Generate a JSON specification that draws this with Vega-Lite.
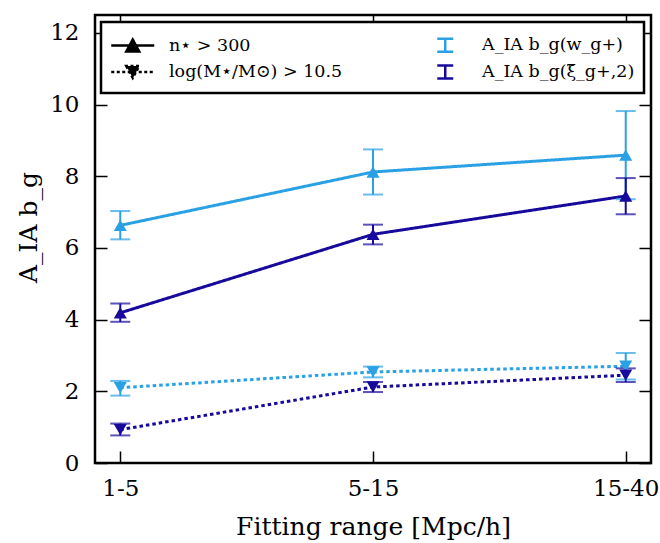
{
  "$schema": "https://vega.github.io/schema/vega-lite/v6.json",
  "width": 556,
  "height": 448,
  "autosize": "none",
  "padding": {"left": 95, "top": 15, "right": 9, "bottom": 80},
  "background": "white",
  "config": {
    "view": {"stroke": "black", "strokeWidth": 2.5},
    "font": "DejaVu Serif",
    "axis": {
      "domain": false, "ticks": false, "grid": true, "gridColor": "black", "gridWidth": 1.5, "gridOpacity": 1,
      "labelFont": "DejaVu Serif", "labelFontSize": 23, "labelColor": "black",
      "titleFont": "DejaVu Serif", "titleFontSize": 25, "titleFontWeight": "normal", "titleColor": "black"
    }
  },
  "data": {"values": [
    {"range": "1-5", "sample": "n⋆ > 300", "method": "A_IA b_g(w_g+)", "value": 6.63, "lo": 6.24, "hi": 7.03},
    {"range": "5-15", "sample": "n⋆ > 300", "method": "A_IA b_g(w_g+)", "value": 8.12, "lo": 7.49, "hi": 8.75},
    {"range": "15-40", "sample": "n⋆ > 300", "method": "A_IA b_g(w_g+)", "value": 8.59, "lo": 7.36, "hi": 9.82},
    {"range": "1-5", "sample": "n⋆ > 300", "method": "A_IA b_g(ξ̃_g+,2)", "value": 4.19, "lo": 3.94, "hi": 4.45},
    {"range": "5-15", "sample": "n⋆ > 300", "method": "A_IA b_g(ξ̃_g+,2)", "value": 6.38, "lo": 6.1, "hi": 6.65},
    {"range": "15-40", "sample": "n⋆ > 300", "method": "A_IA b_g(ξ̃_g+,2)", "value": 7.45, "lo": 6.94, "hi": 7.95},
    {"range": "1-5", "sample": "log(M⋆/M⊙) > 10.5", "method": "A_IA b_g(w_g+)", "value": 2.1, "lo": 1.88, "hi": 2.29},
    {"range": "5-15", "sample": "log(M⋆/M⊙) > 10.5", "method": "A_IA b_g(w_g+)", "value": 2.54, "lo": 2.39, "hi": 2.69},
    {"range": "15-40", "sample": "log(M⋆/M⊙) > 10.5", "method": "A_IA b_g(w_g+)", "value": 2.7, "lo": 2.33, "hi": 3.07},
    {"range": "1-5", "sample": "log(M⋆/M⊙) > 10.5", "method": "A_IA b_g(ξ̃_g+,2)", "value": 0.93, "lo": 0.77, "hi": 1.1},
    {"range": "5-15", "sample": "log(M⋆/M⊙) > 10.5", "method": "A_IA b_g(ξ̃_g+,2)", "value": 2.12, "lo": 1.98, "hi": 2.26},
    {"range": "15-40", "sample": "log(M⋆/M⊙) > 10.5", "method": "A_IA b_g(ξ̃_g+,2)", "value": 2.45, "lo": 2.26, "hi": 2.64}
  ]},
  "encoding": {
    "x": {
      "field": "range", "type": "ordinal",
      "scale": {"type": "point", "padding": 0.1, "domain": ["1-5", "5-15", "15-40"]},
      "axis": {"title": "Fitting range [Mpc/h]", "labelAngle": 0, "labelPadding": 14, "titlePadding": 14, "gridDash": [12, 424, 12, 1000]}
    },
    "color": {
      "field": "method", "type": "nominal",
      "scale": {
        "domain": ["n⋆ > 300", "log(M⋆/M⊙) > 10.5", "A_IA b_g(w_g+)", "A_IA b_g(ξ̃_g+,2)"],
        "range": ["black", "black", "#2aa1e4", "#17099c"]
      },
      "legend": {
        "title": null, "orient": "none", "legendX": 6, "legendY": 7, "columns": 2, "columnPadding": 80, "rowPadding": 1, "padding": 9,
        "strokeColor": "black", "fillColor": "white",
        "labelFont": "DejaVu Serif", "labelFontSize": 17.5, "labelColor": "black", "labelOffset": 31, "labelLimit": 400,
        "symbolSize": 650,
        "encode": {
          "legend": {"update": {"strokeWidth": {"value": 2.5}}},
          "symbols": {
            "update": {
              "shape": {"signal": "datum.index === 0 ? 'M-1,0H2.373M0.176,0.47L0.686,-0.47L1.196,0.47Z' : datum.index === 1 ? 'M-1,0H2.373M0.176,-0.47L0.686,0.47L1.196,-0.47Z' : 'M0.02,-0.51H1.274M0.647,-0.51V0.51M0.02,0.51H1.274'"},
              "fill": {"signal": "datum.index <= 1 ? 'black' : 'transparent'"},
              "stroke": {"signal": "datum.index === 2 ? '#2aa1e4' : datum.index === 3 ? '#17099c' : 'black'"},
              "strokeDash": [{"test": "datum.index === 1", "value": [3, 2.5]}, {"value": [1, 0]}],
              "strokeWidth": {"value": 2.5},
              "size": {"value": 650},
              "opacity": {"value": 1}
            }
          }
        }
      }
    }
  },
  "layer": [
    {
      "mark": {"type": "line", "strokeWidth": 3},
      "encoding": {
        "y": {
          "field": "value", "type": "quantitative",
          "scale": {"domain": [0, 12.5], "nice": false},
          "axis": {"title": "A_IA b_g", "values": [0, 2, 4, 6, 8, 10, 12], "labelPadding": 16, "titlePadding": 8, "titleY": 212, "gridDash": [12, 532, 12, 1000]}
        },
        "strokeDash": {
          "field": "sample", "type": "nominal",
          "scale": {"domain": ["n⋆ > 300", "log(M⋆/M⊙) > 10.5"], "range": [[1, 0], [3.5, 3]]},
          "legend": null
        }
      }
    },
    {
      "mark": {"type": "rule", "strokeWidth": 2},
      "encoding": {
        "y": {"field": "lo", "type": "quantitative"},
        "y2": {"field": "hi"}
      }
    },
    {
      "mark": {"type": "tick", "size": 20, "thickness": 2},
      "encoding": {"y": {"field": "lo", "type": "quantitative"}}
    },
    {
      "mark": {"type": "tick", "size": 20, "thickness": 2},
      "encoding": {"y": {"field": "hi", "type": "quantitative"}}
    },
    {
      "mark": {"type": "point", "filled": true, "size": 170, "opacity": 1, "strokeWidth": 0},
      "encoding": {
        "y": {"field": "value", "type": "quantitative"},
        "shape": {
          "field": "sample", "type": "nominal",
          "scale": {"domain": ["n⋆ > 300", "log(M⋆/M⊙) > 10.5"], "range": ["triangle-up", "triangle-down"]},
          "legend": null
        }
      }
    }
  ]
}
